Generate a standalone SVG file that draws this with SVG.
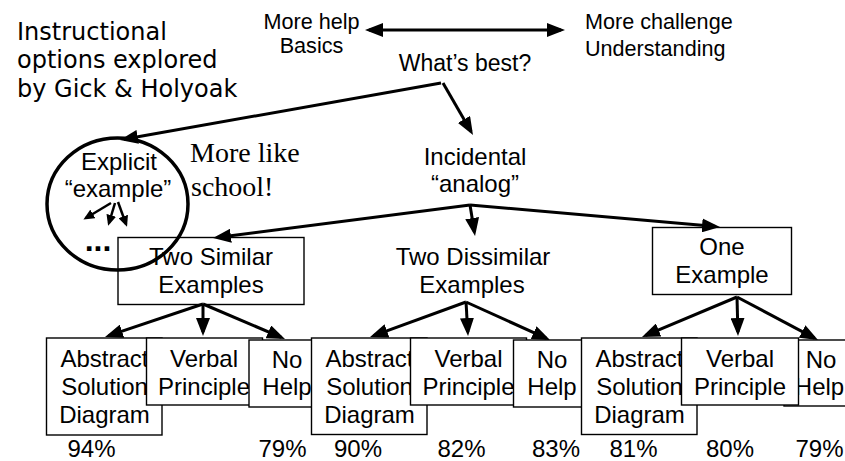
<svg xmlns="http://www.w3.org/2000/svg" width="845" height="461" viewBox="0 0 845 461">
  <style>
    .ti { font-family: "DejaVu Sans", Verdana, sans-serif; font-size: 24px; fill: #000; }
    .a { font-family: "Liberation Sans", Arial, sans-serif; font-size: 24px; fill: #000; text-anchor: middle; }
    .sm { font-family: "Liberation Sans", Arial, sans-serif; font-size: 21.6px; fill: #000; }
    .r { font-family: "Liberation Serif", "Times New Roman", serif; font-size: 28px; fill: #000; }
    .box { fill: #fff; stroke: #000; stroke-width: 1.4; }
    .c { fill: none; stroke: #000; stroke-width: 3; marker-end: url(#ah); }
    .cs { fill: none; stroke: #000; stroke-width: 2.5; marker-end: url(#ahs); }
  </style>
  <defs>
    <marker id="ah" markerUnits="userSpaceOnUse" markerWidth="18" markerHeight="14" refX="14" refY="7" orient="auto-start-reverse">
      <path d="M0,0 L18,7 L0,14 z" fill="#000"/>
    </marker>
    <marker id="ahs" markerUnits="userSpaceOnUse" markerWidth="11" markerHeight="10" refX="8" refY="5" orient="auto">
      <path d="M0,0 L11,5 L0,10 z" fill="#000"/>
    </marker>
  </defs>
  <rect x="0" y="0" width="845" height="461" fill="#fff"/>

  <g id="title">
    <text class="ti" x="17" y="40">Instructional</text>
    <text class="ti" x="17" y="68">options explored</text>
    <text class="ti" x="17" y="97">by Gick &amp; Holyoak</text>
  </g>

  <g id="scale-left">
    <text class="sm" x="311.5" y="29" text-anchor="middle">More help</text>
    <text class="sm" x="311.5" y="53" text-anchor="middle">Basics</text>
  </g>
  <g id="scale-right">
    <text class="sm" x="585" y="29">More challenge</text>
    <text class="sm" x="585" y="56">Understanding</text>
  </g>

  <g id="whats-best">
    <text class="a" x="465" y="71" style="font-size:23px">What’s best?</text>
  </g>

  <g id="two-similar">
    <rect class="box" x="118" y="237.5" width="186" height="67"/>
    <text class="a" x="211" y="265">Two Similar</text>
    <text class="a" x="211" y="293">Examples</text>
  </g>

  <g id="explicit">
    <ellipse cx="117.5" cy="204" rx="70.5" ry="66" fill="none" stroke="#000" stroke-width="3.5"/>
    <text class="a" x="119" y="170">Explicit</text>
    <text class="a" x="118" y="197">“example”</text>
    <text class="a" x="98" y="251" style="font-size:32px;font-weight:bold">...</text>
    <path class="cs" d="M111,203 L86,218"/>
    <path class="cs" d="M115,203 L109,223"/>
    <path class="cs" d="M118,202 L126,224"/>
  </g>

  <g id="more-like-school">
    <text class="r" x="190" y="162">More like</text>
    <text class="r" x="191" y="196">school!</text>
  </g>

  <g id="incidental">
    <text class="a" x="475" y="165">Incidental</text>
    <text class="a" x="475" y="192">“analog”</text>
  </g>

  <g id="two-dissimilar">
    <text class="a" x="473" y="265">Two Dissimilar</text>
    <text class="a" x="472" y="293">Examples</text>
  </g>

  <g id="one-example">
    <rect class="box" x="652.5" y="227.5" width="139" height="67"/>
    <text class="a" x="722" y="255">One</text>
    <text class="a" x="722" y="283">Example</text>
  </g>

  <!-- group 1 -->
  <g id="abstract-1">
    <rect class="box" x="46.5" y="338" width="115.5" height="97"/>
    <text class="a" x="104.5" y="367">Abstract</text>
    <text class="a" x="104.5" y="395">Solution</text>
    <text class="a" x="104.5" y="423">Diagram</text>
  </g>
  <g id="verbal-1">
    <rect class="box" x="146.5" y="338" width="116" height="67"/>
    <text class="a" x="204" y="367">Verbal</text>
    <text class="a" x="204" y="395">Principle</text>
  </g>
  <g id="nohelp-1">
    <rect class="box" x="249" y="340" width="77" height="67"/>
    <text class="a" x="287" y="368">No</text>
    <text class="a" x="287" y="395">Help</text>
  </g>

  <!-- group 2 -->
  <g id="abstract-2">
    <rect class="box" x="311.5" y="338" width="115.5" height="96.5"/>
    <text class="a" x="369.5" y="367">Abstract</text>
    <text class="a" x="369.5" y="395">Solution</text>
    <text class="a" x="369.5" y="423">Diagram</text>
  </g>
  <g id="verbal-2">
    <rect class="box" x="410.5" y="338" width="116" height="67"/>
    <text class="a" x="468.5" y="367">Verbal</text>
    <text class="a" x="468.5" y="395">Principle</text>
  </g>
  <g id="nohelp-2">
    <rect class="box" x="513.5" y="340" width="77" height="67"/>
    <text class="a" x="552" y="368">No</text>
    <text class="a" x="552" y="395">Help</text>
  </g>

  <!-- group 3 -->
  <g id="abstract-3">
    <rect class="box" x="581.5" y="338" width="115.5" height="96.5"/>
    <text class="a" x="639.5" y="367">Abstract</text>
    <text class="a" x="639.5" y="395">Solution</text>
    <text class="a" x="639.5" y="423">Diagram</text>
  </g>
  <g id="nohelp-3">
    <rect class="box" x="784" y="340" width="77" height="66"/>
    <text class="a" x="821" y="368">No</text>
    <text class="a" x="819.5" y="395">Help</text>
  </g>
  <g id="verbal-3">
    <rect class="box" x="681.5" y="338" width="117" height="67"/>
    <text class="a" x="740" y="367">Verbal</text>
    <text class="a" x="740" y="395">Principle</text>
  </g>

  <g id="results">
    <text class="a" x="91.5" y="457">94%</text>
    <text class="a" x="282.5" y="457">79%</text>
    <text class="a" x="358" y="457">90%</text>
    <text class="a" x="461.5" y="457">82%</text>
    <text class="a" x="556" y="457">83%</text>
    <text class="a" x="633.5" y="457">81%</text>
    <text class="a" x="730" y="457">80%</text>
    <text class="a" x="819.5" y="457">79%</text>
  </g>

  <g id="connectors">
    <path class="c" d="M369,30 L561,30" style="marker-start:url(#ah)"/>
    <path class="c" d="M441,83 L123.9,139.3"/>
    <path class="c" d="M443,83 L471,131.5"/>
    <path class="c" d="M470,205 L217,237.5"/>
    <path class="c" d="M470,205 L474.4,232"/>
    <path class="c" d="M470,205 L716,226.6"/>
    <path class="c" d="M203,304 L108.8,335.7"/>
    <path class="c" d="M203,304 L203,332"/>
    <path class="c" d="M203,304 L281.3,337.4"/>
    <path class="c" d="M466,302 L373.8,335.6"/>
    <path class="c" d="M466,302 L467.8,332"/>
    <path class="c" d="M466,302 L546.4,338.4"/>
    <path class="c" d="M737,297 L645.7,335.4"/>
    <path class="c" d="M737,297 L737.9,332"/>
    <path class="c" d="M737,297 L814.5,338.1"/>
  </g>
</svg>
